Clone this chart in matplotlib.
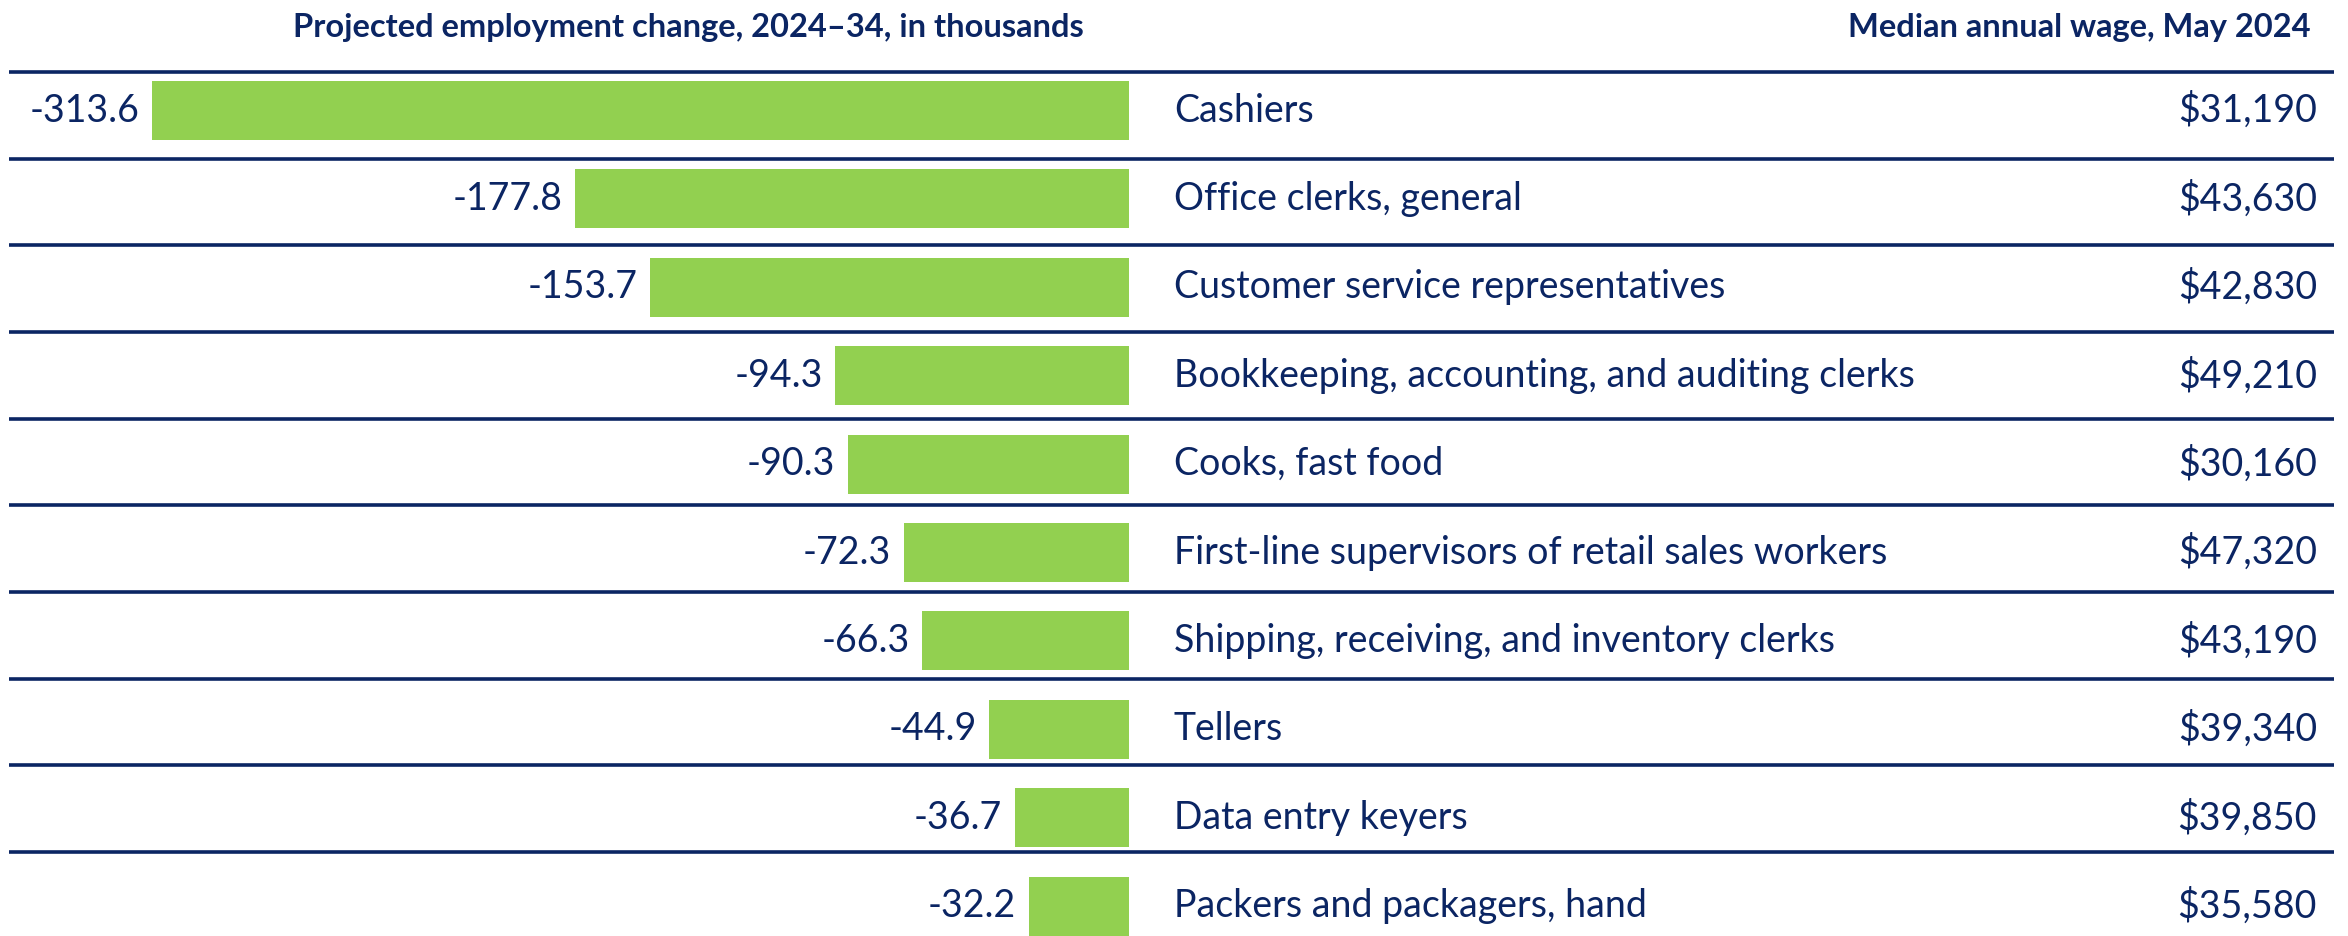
import matplotlib
matplotlib.use("Agg")
import matplotlib.pyplot as plt

# Occupations with the largest projected job declines
occupations = [
    "Cashiers",
    "Office clerks, general",
    "Customer service representatives",
    "Bookkeeping, accounting, and auditing clerks",
    "Cooks, fast food",
    "First-line supervisors of retail sales workers",
    "Shipping, receiving, and inventory clerks",
    "Tellers",
    "Data entry keyers",
    "Packers and packagers, hand",
]
change = [-313.6, -177.8, -153.7, -94.3, -90.3, -72.3, -66.3, -44.9, -36.7, -32.2]
wages = [31190, 43630, 42830, 49210, 30160, 47320, 43190, 39340, 39850, 35580]

navy = "#0b2563"
green = "#92d050"
font = "Lato"

fig = plt.figure(figsize=(23.48, 9.36), dpi=100)
ax = fig.add_axes([0, 0, 1, 1])
ax.axis("off")

ax.set_xlim(-362.4, 391.3)
ax.set_ylim(9.338, -1.25)

rows = list(range(len(occupations)))
ax.barh(rows, change, height=0.667, color=green, left=0)

# separators sit a little tighter than the rows themselves
ytr = ax.get_yaxis_transform()
for i in rows:
    y = i * 0.9804 - 0.4355
    ax.plot([0.0038, 0.994], [y, y], transform=ytr,
            color=navy, lw=2.6, solid_capstyle="butt")

for i, (occ, v, w) in enumerate(zip(occupations, change, wages)):
    ax.annotate(f"{v:.1f}", (v, i), xytext=(-9, 0), textcoords="offset points",
                ha="right", va="center", fontsize=27, color=navy, family=font)
    ax.text(0.5, i, occ, transform=ytr, ha="left", va="center",
            fontsize=27, color=navy, family=font)
    ax.text(0.9868, i, f"${w:,}", transform=ytr, ha="right", va="center",
            fontsize=27, color=navy, family=font)

ax.text(0.293, 0.971, "Projected employment change, 2024\u201334, in thousands",
        transform=ax.transAxes, ha="center", va="center", fontsize=23.5,
        fontweight="bold", color=navy, family=font)
ax.text(0.984, 0.971, "Median annual wage, May 2024",
        transform=ax.transAxes, ha="right", va="center", fontsize=23.5,
        fontweight="bold", color=navy, family=font)

fig.savefig("out.png", dpi=100)
